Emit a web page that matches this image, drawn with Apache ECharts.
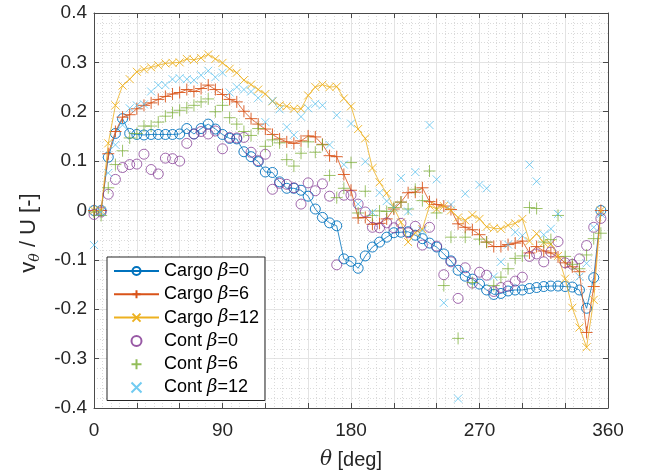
<!DOCTYPE html>
<html>
<head>
<meta charset="utf-8">
<script src="https://cdn.jsdelivr.net/npm/echarts@6/dist/echarts.min.js"></script>
<style>
html,body{margin:0;padding:0;background:#fff;}
#chart{width:645px;height:475px;}
</style>
</head>
<body>
<div id="chart"></div>
<script>
// angle categories (deg)
var theta = [0,5,10,15,20,25,30,35,40,45,50,55,60,65,70,75,80,85,90,95,100,105,110,115,120,125,130,135,140,145,150,155,160,165,170,175,180,185,190,195,200,205,210,215,220,225,230,235,240,245,250,255,260,265,270,275,280,285,290,295,300,305,310,315,320,325,330,335,340,345,350,355];

var cargoB0 = [0,0,0.108,0.156,0.186,0.156,0.154,0.153,0.154,0.154,0.154,0.154,0.155,0.166,0.155,0.166,0.175,0.165,0.154,0.146,0.145,0.119,0.109,0.099,0.078,0.077,0.058,0.045,0.045,0.041,0.029,0.003,-0.014,-0.025,-0.031,-0.098,-0.103,-0.117,-0.092,-0.074,-0.064,-0.054,-0.045,-0.044,-0.043,-0.05,-0.057,-0.066,-0.074,-0.088,-0.102,-0.121,-0.133,-0.139,-0.149,-0.161,-0.17,-0.168,-0.163,-0.161,-0.161,-0.158,-0.156,-0.154,-0.153,-0.153,-0.154,-0.155,-0.161,-0.198,-0.136,0];

var cargoB6 = [0,0,0.115,0.16,0.189,0.194,0.206,0.213,0.218,0.225,0.231,0.236,0.239,0.245,0.241,0.247,0.254,0.245,0.235,0.225,0.22,0.201,0.186,0.175,0.165,0.154,0.145,0.139,0.136,0.141,0.151,0.149,0.134,0.111,0.109,0.073,0.041,-0.015,-0.014,-0.028,-0.026,-0.017,0.003,0.017,0.036,0.037,0.046,0.018,0.012,0.009,0.002,-0.027,-0.034,-0.039,-0.049,-0.064,-0.073,-0.073,-0.069,-0.066,-0.062,-0.086,-0.073,-0.082,-0.086,-0.094,-0.106,-0.114,-0.124,-0.247,-0.154,0];

var cargoB12 = [0,0,0.136,0.213,0.253,0.266,0.281,0.286,0.29,0.294,0.298,0.299,0.3,0.307,0.305,0.309,0.316,0.307,0.299,0.287,0.279,0.264,0.255,0.245,0.236,0.221,0.213,0.211,0.206,0.206,0.233,0.25,0.255,0.25,0.251,0.227,0.211,0.165,0.146,0.086,0.057,0.035,0.006,-0.024,-0.064,-0.045,-0.038,0.01,0.003,0.009,0,-0.014,-0.02,-0.009,-0.017,-0.033,-0.036,-0.037,-0.03,-0.026,-0.017,-0.062,-0.047,-0.065,-0.068,-0.092,-0.138,-0.197,-0.237,-0.277,-0.181,0];

var contB0 = [-0.008,-0.003,0.033,0.063,0.087,0.093,0.094,0.114,0.083,0.074,0.106,0.105,0.1,0.136,0.155,0.16,0.155,0.161,0.125,0.148,0.147,0.148,0.118,0.101,0.114,0.043,0.055,0.053,0.046,0.013,0.056,0.04,0.054,0.029,-0.11,0.031,0.031,0.013,-0.003,-0.034,-0.035,-0.025,-0.035,-0.026,-0.045,-0.032,-0.07,-0.034,-0.072,-0.13,-0.104,-0.178,-0.116,-0.147,-0.125,-0.131,-0.164,-0.156,-0.153,-0.143,-0.135,-0.093,-0.088,-0.104,-0.084,-0.063,-0.106,-0.109,-0.098,-0.071,-0.034,-0.016];

var contB6 = [-0.003,-0.01,0.046,0.093,0.121,0.147,0.156,0.171,0.171,0.179,0.191,0.198,0.203,0.208,0.213,0.22,0.226,0.2,0.213,0.188,0.175,0.16,0.152,0.166,0.13,0.143,0.137,0.103,0.09,0.116,0.139,0.118,0.133,0.071,0.026,0.045,0.097,-0.005,0.039,-0.01,-0.001,-0.002,0.006,0.017,0.003,0.043,0.02,0.08,-0.005,-0.152,-0.054,-0.259,-0.054,-0.146,-0.058,-0.064,-0.152,-0.135,-0.118,-0.097,-0.092,0.006,0.004,-0.064,-0.059,-0.01,-0.093,-0.109,-0.118,-0.09,-0.057,-0.046];

var contB12 = [-0.07,-0.003,0.076,0.133,0.173,0.207,0.213,0.215,0.241,0.254,0.254,0.266,0.268,0.266,0.264,0.274,0.283,0.27,0.279,0.239,0.25,0.245,0.241,0.228,0.179,0.222,0.205,0.169,0.153,0.19,0.207,0.216,0.213,0.133,0.193,0.093,0.176,0.013,0.099,-0.004,0.036,0.019,0.006,0.066,-0.002,0.078,-0.041,0.173,0.063,-0.187,0.012,-0.381,0.034,null,0.052,0.045,-0.134,-0.104,-0.069,-0.044,-0.051,0.093,0.059,-0.049,-0.037,-0.007,null,null,-0.134,-0.107,-0.034,-0.007];

var yTicks = [-0.4,-0.3,-0.2,-0.1,0,0.1,0.2,0.3,0.4];
var xTickLabels = ['0','90','180','270','360'];

var names = ['Cargo β=0','Cargo β=6','Cargo β=12','Cont β=0','Cont β=6','Cont β=12'];
var colors = ['#0072BD','#D95319','#EDB120','#7E2F8E','#77AC30','#4DBEEE'];

var SYM_PLUS = 'path://M5,0L5,10M0,5L10,5';
var SYM_X = 'path://M0,0L10,10M0,10L10,0';

function pairs(vals){
  return theta.map(function(t,i){ return [t, vals[i]]; });
}

var FONT = 'Liberation Sans, Arial, Helvetica, sans-serif';

function mkSeries(idx, vals, type, symbol, size){
  var c = colors[idx];
  var s = {
    name: names[idx],
    type: type,
    data: pairs(vals),
    symbol: symbol,
    symbolSize: size,
    itemStyle: {color: 'rgba(255,255,255,0)', borderColor: c, borderWidth: 0.9},
    emphasis: {disabled: true},
    animation: false,
    z: 2 + idx
  };
  if (type === 'line') {
    s.showAllSymbol = true;
    s.lineStyle = {color: c, width: 0.8};
    s.connectNulls = false;
  }
  return s;
}

var axisLine = {show: true, onZero: false, lineStyle: {color: '#4a4a4a', width: 1}};
var axisTick = {show: true, inside: true, length: 5, lineStyle: {color: '#4a4a4a'}};

var chart = echarts.init(document.getElementById('chart'), null, {renderer: 'canvas'});
chart.setOption({
  animation: false,
  backgroundColor: '#fff',
  grid: {left: 94, top: 13, right: 37, bottom: 62, containLabel: false},
  graphic: [{
    type: 'text',
    x: 29, y: 233,
    rotation: Math.PI / 2,
    silent: true,
    style: {
      text: 'v{s|θ} / U [-]',
      align: 'center', verticalAlign: 'middle',
      fontFamily: FONT, fontSize: 22, fill: '#262626',
      rich: {s: {fontFamily: 'DejaVu Serif, serif', fontStyle: 'italic', fontSize: 14, fill: '#262626', padding: [12, 0, 0, 0]}}
    }
  }],
  legend: {
    orient: 'vertical',
    left: 107, top: 257,
    padding: [5, 6, 4, 6],
    itemWidth: 45, itemHeight: 10, itemGap: 5.3,
    backgroundColor: '#fff',
    borderColor: '#262626', borderWidth: 1, borderRadius: 0,
    data: names,
    formatter: function(n){ return n.replace('β', '{g|β}'); },
    textStyle: {
      fontFamily: FONT, fontSize: 18, color: '#000', lineHeight: 18,
      rich: {g: {fontFamily: 'DejaVu Serif, serif', fontStyle: 'italic', fontSize: 18, color: '#000', lineHeight: 18}}
    },
    selectedMode: false
  },
  xAxis: [{
    type: 'value', min: 0, max: 360, interval: 30, position: 'bottom',
    axisLine: axisLine, axisTick: axisTick,
    minorTick: {show: false, splitNumber: 5},
    splitLine: {show: true, lineStyle: {color: '#e3e3e3', width: 1}},
    minorSplitLine: {show: true, lineStyle: {color: '#dadada', width: 1, type: [1, 2]}},
    axisLabel: {
      margin: 13, fontFamily: FONT, fontSize: 19, color: '#262626',
      formatter: function(v){ return (v % 90 === 0) ? xTickLabels[v / 90] : ''; }
    },
    name: '{i|θ} [deg]', nameLocation: 'middle', nameGap: 42,
    nameTextStyle: {fontFamily: FONT, fontSize: 20, color: '#262626',
      rich: {i: {fontFamily: 'DejaVu Serif, serif', fontStyle: 'italic', fontSize: 20, color: '#262626'}}}
  },{
    type: 'value', min: 0, max: 360, interval: 30, position: 'top',
    axisLine: axisLine, axisTick: axisTick,
    splitLine: {show: false}, axisLabel: {show: false}
  }],
  yAxis: [{
    type: 'value', min: -0.4, max: 0.4, interval: 0.1, position: 'left',
    axisLine: axisLine, axisTick: axisTick,
    minorTick: {show: false, splitNumber: 5},
    splitLine: {show: true, lineStyle: {color: '#e3e3e3', width: 1}},
    minorSplitLine: {show: true, lineStyle: {color: '#dadada', width: 1, type: [1, 2]}},
    axisLabel: {
      margin: 7, fontFamily: FONT, fontSize: 19, color: '#262626',
      formatter: function(v){
        var r = Math.round(v * 10) / 10;
        for (var k = 0; k < yTicks.length; k++) {
          if (Math.abs(yTicks[k] - r) < 1e-9) return r === 0 ? '0' : r.toFixed(1);
        }
        return '';
      }
    }
  },{
    type: 'value', min: -0.4, max: 0.4, interval: 0.1, position: 'right',
    axisLine: axisLine, axisTick: axisTick,
    splitLine: {show: false}, axisLabel: {show: false}
  }],
  series: [
    mkSeries(0, cargoB0, 'line', 'circle', 10),
    mkSeries(1, cargoB6, 'line', SYM_PLUS, 12),
    mkSeries(2, cargoB12, 'line', SYM_X, 8),
    mkSeries(3, contB0, 'scatter', 'circle', 10),
    mkSeries(4, contB6, 'scatter', SYM_PLUS, 12),
    mkSeries(5, contB12, 'scatter', SYM_X, 8)
  ]
});
</script>
</body>
</html>
